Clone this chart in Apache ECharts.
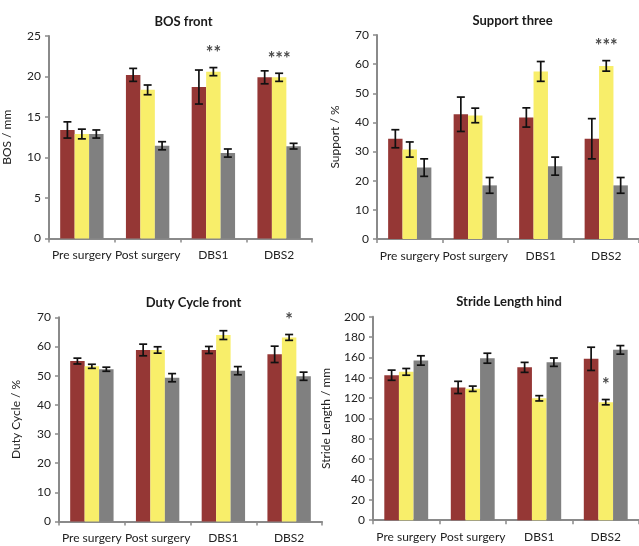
<!DOCTYPE html>
<html>
<head>
<meta charset="utf-8">
<script src="https://cdn.jsdelivr.net/npm/echarts@6/dist/echarts.min.js"></script>
<style>html,body{margin:0;padding:0;background:#fff;}#c{width:639px;height:546px;}</style>
</head>
<body>
<div id="c"></div>
<script>
const categories = ['Pre surgery', 'Post surgery', 'DBS1', 'DBS2'];

// BOS front (mm)
const bosRed = [13.4, 20.2, 18.7, 19.9];
const bosRedErr = [1.0, 0.8, 2.1, 0.8];
const bosYellow = [12.9, 18.35, 20.6, 19.9];
const bosYellowErr = [0.6, 0.6, 0.5, 0.5];
const bosGray = [12.9, 11.45, 10.55, 11.4];
const bosGrayErr = [0.5, 0.5, 0.5, 0.35];
const bosSig = ['', '', '**', '***'];

// Support three (%)
const supRed = [34.4, 42.8, 41.7, 34.4];
const supRedErr = [3.1, 5.9, 3.3, 6.9];
const supYellow = [30.7, 42.4, 57.5, 59.4];
const supYellowErr = [2.6, 2.5, 3.4, 1.8];
const supGray = [24.5, 18.4, 25.0, 18.4];
const supGrayErr = [3.0, 2.7, 3.1, 2.7];
const supSig = ['', '', '', '***'];

// Duty Cycle front (%)
const dutyRed = [55.0, 58.8, 58.8, 57.3];
const dutyRedErr = [1.0, 2.0, 1.2, 2.8];
const dutyYellow = [53.2, 58.8, 63.9, 63.1];
const dutyYellowErr = [0.7, 1.1, 1.5, 1.0];
const dutyGray = [52.2, 49.3, 51.7, 49.8];
const dutyGrayErr = [0.7, 1.4, 1.4, 1.4];
const dutySig = ['', '', '', '*'];

// Stride Length hind (mm)
const strRed = [142.5, 130.5, 150.2, 158.6];
const strRedErr = [5.0, 6.0, 4.9, 11.4];
const strYellow = [145.8, 129.2, 119.8, 116.0];
const strYellowErr = [3.3, 2.6, 2.6, 2.6];
const strGray = [157.0, 159.2, 155.3, 167.4];
const strGrayErr = [4.6, 4.9, 4.1, 4.2];
const strSig = ['', '', '', '*'];

// y-axis tick settings [min, max, interval]
const bosAxis = [0, 25, 5];
const supAxis = [0, 70, 10];
const dutyAxis = [0, 70, 10];
const strAxis = [0, 200, 20];

const FONT = 'Lato, "Open Sans", sans-serif';
const COLORS = ['#953735', '#F8EE6A', '#808080'];
const CAT_GAP = 0.34;

const panels = [
  {title: 'BOS front', yname: 'BOS / mm', axis: bosAxis, grid: {left: 49, top: 36, width: 263, height: 202.5}, nameGap: 36,
   vals: [bosRed, bosYellow, bosGray], errs: [bosRedErr, bosYellowErr, bosGrayErr], sig: bosSig},
  {title: 'Support three', yname: 'Support / %', axis: supAxis, grid: {left: 377, top: 35, width: 265, height: 204}, nameGap: 36,
   vals: [supRed, supYellow, supGray], errs: [supRedErr, supYellowErr, supGrayErr], sig: supSig},
  {title: 'Duty Cycle front', yname: 'Duty Cycle / %', axis: dutyAxis, grid: {left: 59, top: 317.3, width: 263, height: 204.2}, nameGap: 37,
   vals: [dutyRed, dutyYellow, dutyGray], errs: [dutyRedErr, dutyYellowErr, dutyGrayErr], sig: dutySig},
  {title: 'Stride Length hind', yname: 'Stride Length / mm', axis: strAxis, grid: {left: 373, top: 316.7, width: 266, height: 203.5}, nameGap: 41,
   vals: [strRed, strYellow, strGray], errs: [strRedErr, strYellowErr, strGrayErr], sig: strSig}
];

const option = {
  animation: false,
  backgroundColor: '#ffffff',
  textStyle: {fontFamily: FONT},
  title: [], grid: [], xAxis: [], yAxis: [], series: []
};

panels.forEach((p, gi) => {
  option.title.push({
    text: p.title,
    left: p.grid.left + p.grid.width / 2 - 2,
    top: p.grid.top - 26,
    textAlign: 'center',
    textStyle: {fontFamily: FONT, fontSize: 13, fontWeight: 'bold', color: '#1a1a1a'}
  });
  option.grid.push(Object.assign({containLabel: false}, p.grid));
  option.xAxis.push({
    type: 'category', gridIndex: gi, data: categories,
    axisLine: {lineStyle: {color: '#8a8a8a', width: 2}},
    axisTick: {show: true, length: 4, lineStyle: {color: '#8a8a8a', width: 1.5}},
    axisLabel: {color: '#222', fontSize: 12, margin: 11, fontFamily: FONT, interval: 0}
  });
  option.yAxis.push({
    type: 'value', gridIndex: gi, min: p.axis[0], max: p.axis[1], interval: p.axis[2],
    name: p.yname, nameLocation: 'middle', nameGap: p.nameGap,
    nameTextStyle: {color: '#222', fontSize: 12, fontFamily: FONT},
    axisLine: {show: true, lineStyle: {color: '#8a8a8a', width: 2}},
    axisTick: {show: true, length: 4, lineStyle: {color: '#8a8a8a', width: 1.5}},
    splitLine: {show: false},
    axisLabel: {color: '#222', fontSize: 12, margin: 8, fontFamily: FONT}
  });
  p.vals.forEach((vals, k) => {
    option.series.push({
      type: 'bar', xAxisIndex: gi, yAxisIndex: gi, data: vals,
      barGap: '0%', barCategoryGap: (CAT_GAP * 100) + '%',
      itemStyle: {color: COLORS[k]}, z: 2
    });
  });
  p.vals.forEach((vals, k) => {
    const errs = p.errs[k];
    const sigs = k === 1 ? p.sig : null;
    option.series.push({
      type: 'custom', xAxisIndex: gi, yAxisIndex: gi, z: 5,
      data: vals.map((v, i) => [i, v, errs[i]]),
      encode: {x: 0, y: 1},
      renderItem: function (params, api) {
        const ci = api.value(0), v = api.value(1), e = api.value(2);
        const bandW = api.size([1, 0])[0];
        const barW = bandW * (1 - CAT_GAP) / 3;
        const off = (k - 1) * barW;
        const top = api.coord([ci, v + e]);
        const bot = api.coord([ci, v - e]);
        const x = top[0] + off;
        const cap = 4;
        const ls = {stroke: '#111', lineWidth: 1.7};
        const children = [
          {type: 'line', shape: {x1: x, y1: top[1], x2: x, y2: bot[1]}, style: ls},
          {type: 'line', shape: {x1: x - cap, y1: top[1], x2: x + cap, y2: top[1]}, style: ls},
          {type: 'line', shape: {x1: x - cap, y1: bot[1], x2: x + cap, y2: bot[1]}, style: ls}
        ];
        if (sigs && sigs[params.dataIndex]) {
          children.push({type: 'text', style: {
            text: sigs[params.dataIndex], x: x, y: top[1] - 14,
            align: 'center', verticalAlign: 'middle',
            fill: '#4a4a4a', font: 'bold 18px ' + FONT
          }});
        }
        return {type: 'group', children: children};
      }
    });
  });
});

const chart = echarts.init(document.getElementById('c'), null, {renderer: 'canvas'});
chart.setOption(option);
</script>
</body>
</html>
